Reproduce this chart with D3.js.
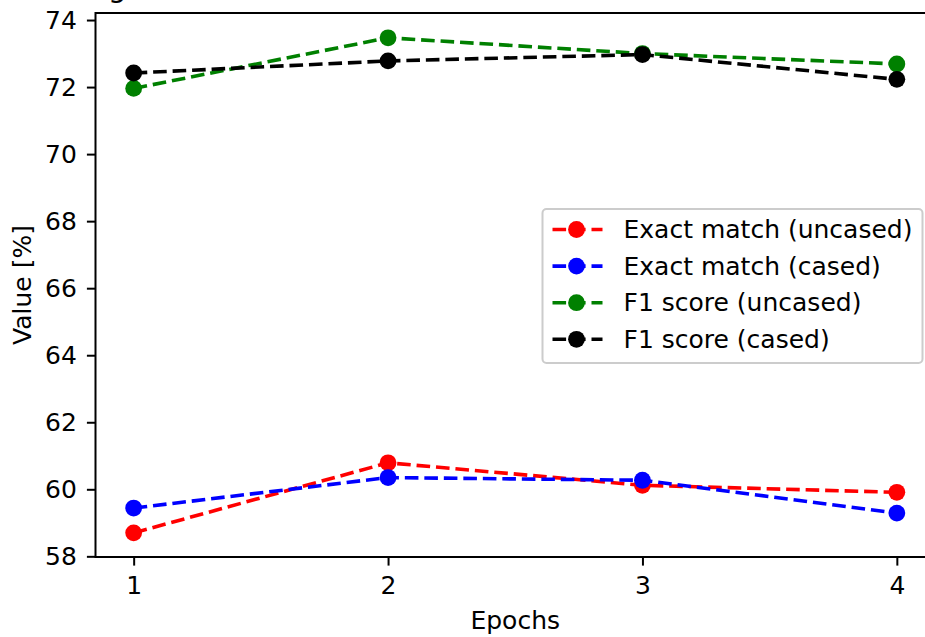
<!DOCTYPE html>
<html>
<head>
<meta charset="utf-8">
<script src="https://cdn.jsdelivr.net/npm/d3@7"></script>
<style>
  body { margin: 0; background: #fff; }
  text { font-family: "DejaVu Sans", sans-serif; fill: #000; }
</style>
</head>
<body>
<div id="graphic"></div>
<script>
//data
var epochs = [1, 2, 3, 4];
var exactUncased = [58.70, 60.79, 60.12, 59.91];
var exactCased = [59.44, 60.35, 60.27, 59.29];
var f1Uncased = [71.96, 73.47, 73.00, 72.69];
var f1Cased = [72.42, 72.78, 72.97, 72.23];
var yTicks = [58, 60, 62, 64, 66, 68, 70, 72, 74];
var seriesNames = ["Exact match (uncased)", "Exact match (cased)", "F1 score (uncased)", "F1 score (cased)"];
var seriesColors = ["#ff0000", "#0000ff", "#008000", "#000000"];

var series = [exactUncased, exactCased, f1Uncased, f1Cased].map(function(vals, i) {
    return { name: seriesNames[i], color: seriesColors[i],
             points: vals.map(function(v, j) { return { x: epochs[j], y: v }; }) };
});

var width = 925, height = 637;
var plotLeft = 95.5, plotRight = 935, plotTop = 13, plotBottom = 557;
var fontSize = "25px";
var dash = "13.6,5.9";

var svg = d3.select("#graphic").append("svg")
    .attr("width", width)
    .attr("height", height);

var x = d3.scaleLinear().domain([0.85, 4.15]).range([plotLeft, plotRight]);
var y = d3.scaleLinear().domain([57.98, 74.21]).range([plotBottom, plotTop]);

//cut-off title, only a descender shows
svg.append("text")
    .attr("x", 108)
    .attr("y", -3)
    .style("font-size", "29px")
    .text("g");

//lines and markers
var line = d3.line()
    .x(function(d) { return x(d.x); })
    .y(function(d) { return y(d.y); });

var g = svg.selectAll("g.series")
    .data(series)
    .enter().append("g")
    .attr("class", "series");

g.append("path")
    .attr("d", function(d) { return line(d.points); })
    .attr("fill", "none")
    .attr("stroke", function(d) { return d.color; })
    .attr("stroke-width", 3.6)
    .attr("stroke-dasharray", dash);

g.selectAll("circle")
    .data(function(d) { return d.points.map(function(p) { return { p: p, c: d.color }; }); })
    .enter().append("circle")
    .attr("cx", function(d) { return x(d.p.x); })
    .attr("cy", function(d) { return y(d.p.y); })
    .attr("r", 8.4)
    .attr("fill", function(d) { return d.c; });

//axes
var xAxis = d3.axisBottom(x).tickValues(epochs).tickFormat(d3.format("d")).tickSize(8.6).tickPadding(8.6);
var yAxis = d3.axisLeft(y).tickValues(yTicks).tickFormat(d3.format("d")).tickSize(8.6).tickPadding(10);

var gx = svg.append("g").attr("transform", "translate(0," + plotBottom + ")").call(xAxis);
var gy = svg.append("g").attr("transform", "translate(" + plotLeft + ",0)").call(yAxis);

[gx, gy].forEach(function(a) {
    a.select(".domain").remove();
    a.attr("font-family", null).attr("font-size", null);
    a.selectAll(".tick line").attr("stroke", "#000").attr("stroke-width", 2);
    a.selectAll(".tick text").style("font-size", fontSize).attr("fill", "#000");
});
gx.selectAll(".tick text").attr("y", 19.5).attr("dy", "0.71em");

//frame
svg.append("rect")
    .attr("x", plotLeft)
    .attr("y", plotTop)
    .attr("width", plotRight - plotLeft)
    .attr("height", plotBottom - plotTop)
    .attr("fill", "none")
    .attr("stroke", "#000")
    .attr("stroke-width", 2);

//axis labels
svg.append("text")
    .attr("x", (plotLeft + plotRight) / 2)
    .attr("y", 629)
    .attr("text-anchor", "middle")
    .style("font-size", fontSize)
    .text("Epochs");

svg.append("text")
    .attr("transform", "translate(31," + ((plotTop + plotBottom) / 2) + ") rotate(-90)")
    .attr("text-anchor", "middle")
    .style("font-size", fontSize)
    .text("Value [%]");

//legend
var legend = svg.append("g").attr("transform", "translate(542.5,209)");

legend.append("rect")
    .attr("width", 380)
    .attr("height", 154)
    .attr("rx", 4)
    .attr("fill", "#fff")
    .attr("fill-opacity", 0.8)
    .attr("stroke", "#cccccc")
    .attr("stroke-width", 2);

var rows = legend.selectAll("g.row")
    .data(series)
    .enter().append("g")
    .attr("class", "row")
    .attr("transform", function(d, i) { return "translate(0," + (20.5 + i * 36.6) + ")"; });

rows.append("line")
    .attr("x1", 10)
    .attr("x2", 60)
    .attr("stroke", function(d) { return d.color; })
    .attr("stroke-width", 3.6)
    .attr("stroke-dasharray", dash);

rows.append("circle")
    .attr("cx", 34)
    .attr("r", 8.4)
    .attr("fill", function(d) { return d.color; });

rows.append("text")
    .attr("x", 81)
    .attr("dy", "0.35em")
    .style("font-size", fontSize)
    .text(function(d) { return d.name; });
</script>
</body>
</html>
